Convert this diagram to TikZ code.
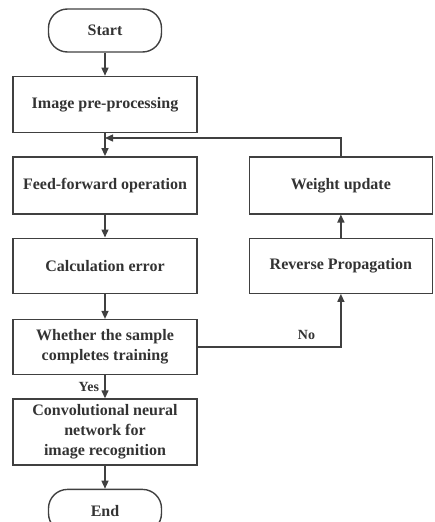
\documentclass[tikz,border=0pt]{standalone}
\usepackage{fontspec}
\setmainfont{Liberation Serif}
\usetikzlibrary{arrows.meta, positioning, shapes.misc}

\begin{document}
\begin{tikzpicture}[
        x=1pt, y=1pt,
        node distance=23pt,
        every node/.style={font=\fontsize{16}{20}\selectfont\bfseries, text=black!80},
        procbox/.style={draw=black!75, line width=1.4pt, align=center, minimum width=184pt, minimum height=56pt, inner sep=2pt},
        termbox/.style={draw=black!75, line width=1.4pt, rounded corners=19pt, minimum width=113pt, minimum height=43pt},
        arrow/.style={-{Triangle[length=8pt, width=7pt]}, line width=1.4pt, draw=black!75}
    ]
        \useasboundingbox (0,0) rectangle (434,-522);

        % main column
        \node[termbox] (start) at (105,-30.5) {Start};
        \node[procbox, below=of start] (prep) {Image pre-processing};
        \node[procbox, below=of prep, minimum height=57pt] (feed) {Feed-forward operation};
        \node[procbox, below=of feed, minimum height=55pt] (calc) {Calculation error};
        \node[procbox, below=25pt of calc, minimum height=55pt] (check) {Whether the sample\\completes training};
        \node[procbox, below=of check, minimum height=66pt] (cnn) {Convolutional neural\\network for\\image recognition};
        \node[termbox, below=of cnn] (end) {End};

        % right column
        \node[procbox, right=51pt of feed, minimum width=183pt, minimum height=57pt] (weight) {Weight update};
        \node[procbox, below=of weight, minimum width=183pt, minimum height=55pt] (back) {Reverse Propagation};

        \coordinate (join) at (prep.south |- 0,-138);

        \draw[arrow] (start) -- (prep);
        \draw[arrow] (prep) -- (feed);
        \draw[arrow] (feed) -- (calc);
        \draw[arrow] (calc) -- (check);
        \draw[arrow] (check) -- node[left=2pt, font=\fontsize{14}{16}\selectfont\bfseries] {Yes} (cnn);
        \draw[arrow] (cnn) -- (end);

        % loop back
        \draw[arrow] (check.east) -| node[pos=0.38, above=3pt, font=\fontsize{14}{16}\selectfont\bfseries] {No} (back.south);
        \draw[arrow] (back) -- (weight);
        \draw[arrow] (weight.north) |- (join);
    \end{tikzpicture}
\end{document}
